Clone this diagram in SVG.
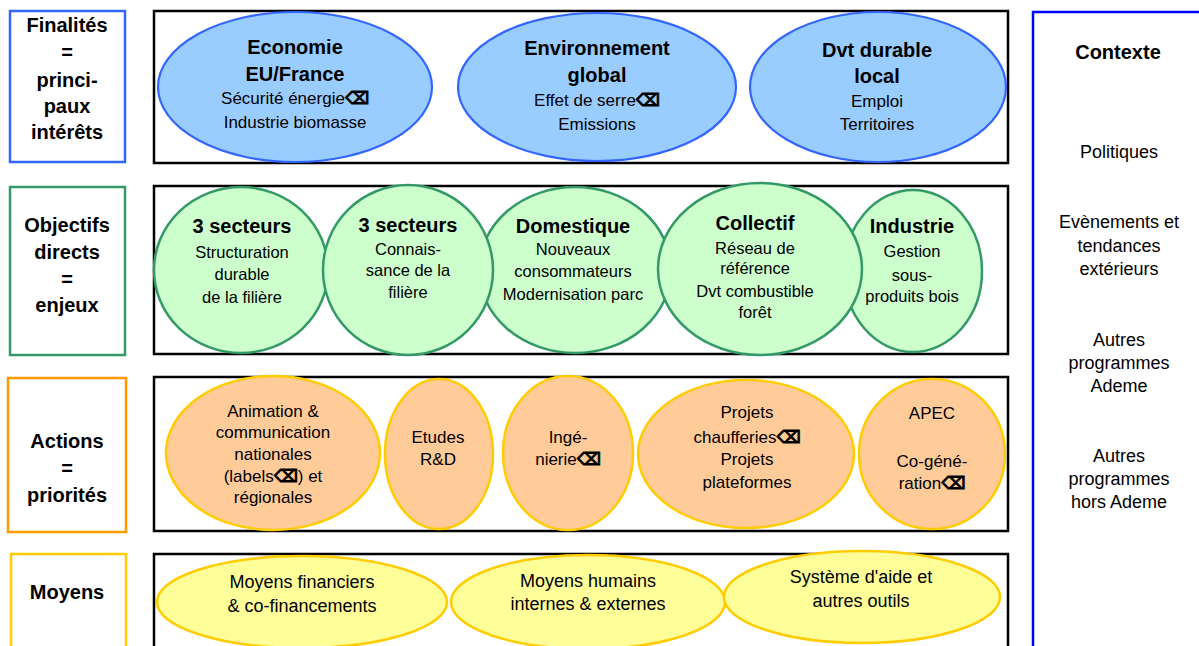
<svg xmlns="http://www.w3.org/2000/svg" width="1199" height="646" viewBox="0 0 1199 646">
<style>
text{font-family:"Liberation Sans",Arial,sans-serif;fill:#000;text-anchor:middle}
.b{font-weight:bold;font-size:20px}
.r1{font-size:17px}
.r2{font-size:16.5px}
.r3{font-size:17px}
.r4{font-size:18px}
.rc{font-size:18px}
.sym{font-family:"DejaVu Sans",sans-serif;font-weight:bold;stroke:#000;stroke-width:0.9}
.frame{fill:#fff;stroke:#000;stroke-width:2.5}
.lab{fill:#fff;stroke-width:2.5}
.e1{fill:#99CCFF;stroke:#3366FF;stroke-width:2.2}
.e2{fill:#CCFFCC;stroke:#339966;stroke-width:2.5}
.e3{fill:#FFCC99;stroke:#FFCC00;stroke-width:2.5}
.e4{fill:#FFFF99;stroke:#FFCC00;stroke-width:2.5}
</style>
<rect width="1199" height="646" fill="#fff"/>
<g id="connectors"/>

<!-- Context panel -->
<g id="contexte">
<rect x="1033" y="12" width="200" height="660" fill="#fff" stroke="#0000FF" stroke-width="2.5"/>
<text class="b" x="1118" y="59">Contexte</text>
<text class="rc" x="1119" y="158">Politiques</text>
<text class="rc" x="1119" y="228">Evènements et</text>
<text class="rc" x="1119" y="252">tendances</text>
<text class="rc" x="1119" y="275">extérieurs</text>
<text class="rc" x="1119" y="346">Autres</text>
<text class="rc" x="1119" y="369">programmes</text>
<text class="rc" x="1119" y="392">Ademe</text>
<text class="rc" x="1119" y="462">Autres</text>
<text class="rc" x="1119" y="485">programmes</text>
<text class="rc" x="1119" y="508">hors Ademe</text>
</g>

<!-- Row 1 -->
<g id="label-finalites">
<rect class="lab" x="10" y="11" width="115" height="151" stroke="#3366FF"/>
<text class="b" x="67" y="32">Finalités</text>
<text class="b" x="67" y="59">=</text>
<text class="b" x="67" y="87">princi-</text>
<text class="b" x="67" y="113">paux</text>
<text class="b" x="67" y="139">intérêts</text>
</g>
<g id="row1-frame"><rect class="frame" x="154" y="11" width="854" height="152"/></g>
<g id="economie">
<ellipse class="e1" cx="295" cy="87" rx="137" ry="75"/>
<text class="b" x="295" y="54">Economie</text>
<text class="b" x="295" y="81">EU/France</text>
<text class="r1" x="295" y="104">Sécurité énergie<tspan class="sym">⌫</tspan></text>
<text class="r1" x="295" y="128">Industrie biomasse</text>
</g>
<g id="environnement">
<ellipse class="e1" cx="597" cy="87" rx="139" ry="74"/>
<text class="b" x="597" y="55">Environnement</text>
<text class="b" x="597" y="82">global</text>
<text class="r1" x="597" y="106">Effet de serre<tspan class="sym">⌫</tspan></text>
<text class="r1" x="597" y="130">Emissions</text>
</g>
<g id="dvt-durable">
<ellipse class="e1" cx="878" cy="87" rx="128" ry="75"/>
<text class="b" x="877" y="57">Dvt durable</text>
<text class="b" x="877" y="83">local</text>
<text class="r1" x="877" y="107">Emploi</text>
<text class="r1" x="877" y="130">Territoires</text>
</g>

<!-- Row 2 -->
<g id="label-objectifs">
<rect class="lab" x="10" y="187" width="115" height="168" stroke="#339966"/>
<text class="b" x="67" y="232">Objectifs</text>
<text class="b" x="67" y="259">directs</text>
<text class="b" x="67" y="286">=</text>
<text class="b" x="67" y="312">enjeux</text>
</g>
<g id="row2-frame"><rect class="frame" x="154" y="186" width="854" height="168"/></g>
<g id="structuration">
<ellipse class="e2" cx="241" cy="270" rx="87" ry="83"/>
<text class="b" x="242" y="233">3 secteurs</text>
<text class="r2" x="242" y="258">Structuration</text>
<text class="r2" x="242" y="280">durable</text>
<text class="r2" x="242" y="303">de la filière</text>
</g>
<g id="domestique">
<ellipse class="e2" cx="575" cy="270" rx="96" ry="83"/>
<text class="b" x="573" y="233">Domestique</text>
<text class="r2" x="573" y="255">Nouveaux</text>
<text class="r2" x="573" y="277">consommateurs</text>
<text class="r2" x="573" y="300">Modernisation parc</text>
</g>
<g id="connaissance">
<ellipse class="e2" cx="408" cy="270" rx="85" ry="85"/>
<text class="b" x="408" y="232">3 secteurs</text>
<text class="r2" x="408" y="255">Connais-</text>
<text class="r2" x="408" y="276">sance de la</text>
<text class="r2" x="408" y="298">filière</text>
</g>
<g id="industrie">
<ellipse class="e2" cx="913" cy="271" rx="69" ry="81"/>
<text class="b" x="912" y="233">Industrie</text>
<text class="r2" x="912" y="257">Gestion</text>
<text class="r2" x="912" y="281">sous-</text>
<text class="r2" x="912" y="302">produits bois</text>
</g>
<g id="collectif">
<ellipse class="e2" cx="760" cy="269" rx="102" ry="86"/>
<text class="b" x="755" y="230">Collectif</text>
<text class="r2" x="755" y="254">Réseau de</text>
<text class="r2" x="755" y="274">référence</text>
<text class="r2" x="755" y="297">Dvt combustible</text>
<text class="r2" x="755" y="318">forêt</text>
</g>

<!-- Row 3 -->
<g id="label-actions">
<rect class="lab" x="8" y="378" width="118" height="154" stroke="#FF9900"/>
<text class="b" x="67" y="448">Actions</text>
<text class="b" x="67" y="475">=</text>
<text class="b" x="67" y="502">priorités</text>
</g>
<g id="row3-frame"><rect class="frame" x="154" y="377" width="854" height="154"/></g>
<g id="animation">
<ellipse class="e3" cx="273" cy="453" rx="107" ry="77"/>
<text class="r3" x="273" y="417">Animation &amp;</text>
<text class="r3" x="273" y="438">communication</text>
<text class="r3" x="273" y="460">nationales</text>
<text class="r3" x="273" y="482">(labels<tspan class="sym">⌫</tspan>) et</text>
<text class="r3" x="273" y="503">régionales</text>
</g>
<g id="etudes">
<ellipse class="e3" cx="439" cy="454" rx="54" ry="75"/>
<text class="r3" x="438" y="443">Etudes</text>
<text class="r3" x="438" y="465">R&amp;D</text>
</g>
<g id="ingenierie">
<ellipse class="e3" cx="568" cy="453" rx="65" ry="77"/>
<text class="r3" x="568" y="443">Ingé-</text>
<text class="r3" x="568" y="465">nierie<tspan class="sym">⌫</tspan></text>
</g>
<g id="projets">
<ellipse class="e3" cx="746" cy="454" rx="108" ry="74"/>
<text class="r3" x="747" y="418">Projets</text>
<text class="r3" x="747" y="443">chaufferies<tspan class="sym">⌫</tspan></text>
<text class="r3" x="747" y="465">Projets</text>
<text class="r3" x="747" y="488">plateformes</text>
</g>
<g id="apec">
<ellipse class="e3" cx="932" cy="454" rx="73" ry="75"/>
<text class="r3" x="932" y="419">APEC</text>
<text class="r3" x="932" y="467">Co-géné-</text>
<text class="r3" x="932" y="489">ration<tspan class="sym">⌫</tspan></text>
</g>

<!-- Row 4 -->
<g id="label-moyens">
<rect class="lab" x="11" y="554" width="115" height="120" stroke="#FFCC00"/>
<text class="b" x="67" y="599">Moyens</text>
</g>
<g id="row4-frame"><rect class="frame" x="154" y="554" width="854" height="120"/></g>
<g id="financiers">
<ellipse class="e4" cx="302" cy="602" rx="145" ry="46"/>
<text class="r4" x="302" y="588">Moyens financiers</text>
<text class="r4" x="302" y="612">&amp; co-financements</text>
</g>
<g id="humains">
<ellipse class="e4" cx="588" cy="602" rx="137" ry="47"/>
<text class="r4" x="588" y="587">Moyens humains</text>
<text class="r4" x="588" y="610">internes &amp; externes</text>
</g>
<g id="systeme">
<ellipse class="e4" cx="862" cy="597" rx="138" ry="46"/>
<text class="r4" x="861" y="583">Système d'aide et</text>
<text class="r4" x="861" y="607">autres outils</text>
</g>
</svg>
